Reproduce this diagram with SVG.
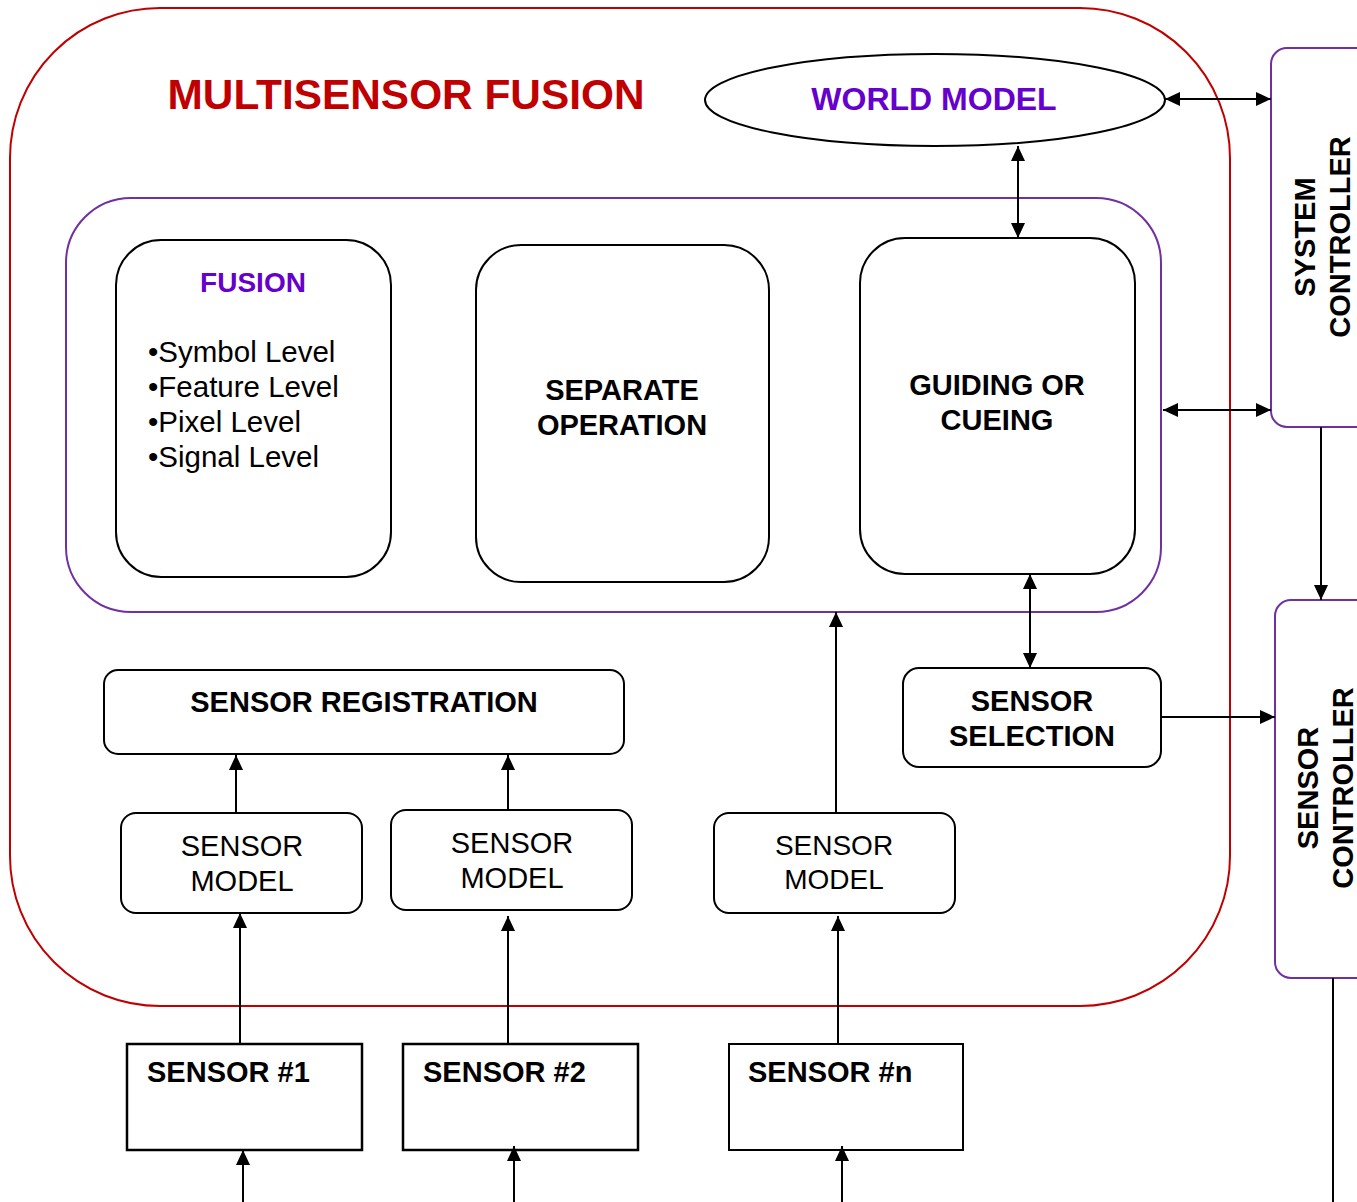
<svg xmlns="http://www.w3.org/2000/svg" width="1357" height="1202" viewBox="0 0 1357 1202">
<defs>
<marker id="ah" viewBox="0 0 15 14" refX="15" refY="7" markerWidth="15" markerHeight="14" markerUnits="userSpaceOnUse" orient="auto-start-reverse">
<path d="M0,0 L15,7 L0,14 Z" fill="#000"/>
</marker>
<style>
text{font-family:"Liberation Sans",Arial,sans-serif;fill:#000;}
.b{font-weight:bold;}
.box{fill:#fff;stroke:#000;stroke-width:2;}
.pbox{fill:#fff;stroke:#7030a0;stroke-width:2;}
.c{fill:none;stroke:#000;stroke-width:2;}
.m{text-anchor:middle;}
</style>
</defs>
<rect x="0" y="0" width="1357" height="1202" fill="#fff"/>
<g id="multisensor-fusion">
<rect x="10" y="8" width="1220" height="998" rx="150" ry="150" fill="none" stroke="#c00000" stroke-width="2"/>
<text x="406" y="109" class="b m" font-size="43" style="fill:#c00000" textLength="477" lengthAdjust="spacingAndGlyphs">MULTISENSOR FUSION</text>
</g>
<g id="world-model">
<ellipse cx="935" cy="100" rx="230" ry="46" fill="#fff" stroke="#000" stroke-width="2"/>
<text x="934" y="110" class="b m" font-size="32" style="fill:#6600cc">WORLD MODEL</text>
</g>
<g id="fusion-group">
<rect x="66" y="198" width="1095" height="414" rx="65" ry="65" fill="none" stroke="#7030a0" stroke-width="2"/>
</g>
<g id="fusion">
<rect class="box" x="116" y="240" width="275" height="337" rx="45" ry="45"/>
<text x="253" y="292" class="b m" font-size="28" style="fill:#6600cc">FUSION</text>
<text x="148" y="362" font-size="29.5">•Symbol Level</text>
<text x="148" y="397" font-size="29.5">•Feature Level</text>
<text x="148" y="432" font-size="29.5">•Pixel Level</text>
<text x="148" y="467" font-size="29.5">•Signal Level</text>
</g>
<g id="separate-operation">
<rect class="box" x="476" y="245" width="293" height="337" rx="45" ry="45"/>
<text x="622" y="400" class="b m" font-size="29">SEPARATE</text>
<text x="622" y="435" class="b m" font-size="29">OPERATION</text>
</g>
<g id="guiding-or-cueing">
<rect class="box" x="860" y="238" width="275" height="336" rx="45" ry="45"/>
<text x="997" y="395" class="b m" font-size="29">GUIDING OR</text>
<text x="997" y="430" class="b m" font-size="29">CUEING</text>
</g>
<g id="system-controller">
<rect class="pbox" x="1271" y="48" width="110" height="379" rx="16" ry="16"/>
<text transform="translate(1315,237) rotate(-90)" class="b m" font-size="29">SYSTEM</text>
<text transform="translate(1350,237) rotate(-90)" class="b m" font-size="29">CONTROLLER</text>
</g>
<g id="sensor-controller">
<rect class="pbox" x="1275" y="600" width="110" height="378" rx="16" ry="16"/>
<text transform="translate(1318,788) rotate(-90)" class="b m" font-size="29">SENSOR</text>
<text transform="translate(1353,788) rotate(-90)" class="b m" font-size="29">CONTROLLER</text>
</g>
<g id="sensor-selection">
<rect class="box" x="903" y="668" width="258" height="99" rx="16" ry="16"/>
<text x="1032" y="711" class="b m" font-size="29">SENSOR</text>
<text x="1032" y="746" class="b m" font-size="29">SELECTION</text>
</g>
<g id="sensor-registration">
<rect class="box" x="104" y="670" width="520" height="84" rx="14" ry="14"/>
<text x="364" y="712" class="b m" font-size="29">SENSOR REGISTRATION</text>
</g>
<g id="sensor-model-1">
<rect class="box" x="121" y="813" width="241" height="100" rx="15" ry="15"/>
<text x="242" y="856" class="m" font-size="29">SENSOR</text>
<text x="242" y="891" class="m" font-size="29">MODEL</text>
</g>
<g id="sensor-model-2">
<rect class="box" x="391" y="810" width="241" height="100" rx="15" ry="15"/>
<text x="512" y="853" class="m" font-size="29">SENSOR</text>
<text x="512" y="888" class="m" font-size="29">MODEL</text>
</g>
<g id="sensor-model-n">
<rect class="box" x="714" y="813" width="241" height="100" rx="15" ry="15"/>
<text x="834" y="855" class="m" font-size="28">SENSOR</text>
<text x="834" y="889" class="m" font-size="28">MODEL</text>
</g>
<g id="sensor-1">
<rect x="127" y="1044" width="235" height="106" fill="#fff" stroke="#000" stroke-width="2.5"/>
<text x="147" y="1082" class="b" font-size="29">SENSOR #1</text>
</g>
<g id="sensor-2">
<rect x="403" y="1044" width="235" height="106" fill="#fff" stroke="#000" stroke-width="2.5"/>
<text x="423" y="1082" class="b" font-size="29">SENSOR #2</text>
</g>
<g id="sensor-n">
<rect x="729" y="1044" width="234" height="106" fill="#fff" stroke="#000" stroke-width="2"/>
<text x="748" y="1082" class="b" font-size="29">SENSOR #n</text>
</g>
<g id="connectors">
<line class="c" x1="1018" y1="146" x2="1018" y2="238" marker-start="url(#ah)" marker-end="url(#ah)"/>
<line class="c" x1="1165" y1="99" x2="1271" y2="99" marker-start="url(#ah)" marker-end="url(#ah)"/>
<line class="c" x1="1163" y1="410" x2="1271" y2="410" marker-start="url(#ah)" marker-end="url(#ah)"/>
<line class="c" x1="1321" y1="427" x2="1321" y2="600" marker-end="url(#ah)"/>
<line class="c" x1="1333" y1="978" x2="1333" y2="1202"/>
<line class="c" x1="1030" y1="574" x2="1030" y2="668" marker-start="url(#ah)" marker-end="url(#ah)"/>
<line class="c" x1="1161" y1="717" x2="1275" y2="717" marker-end="url(#ah)"/>
<line class="c" x1="236" y1="813" x2="236" y2="755" marker-end="url(#ah)"/>
<line class="c" x1="508" y1="810" x2="508" y2="755" marker-end="url(#ah)"/>
<line class="c" x1="836" y1="813" x2="836" y2="612" marker-end="url(#ah)"/>
<line class="c" x1="240" y1="1044" x2="240" y2="913" marker-end="url(#ah)"/>
<line class="c" x1="508" y1="1044" x2="508" y2="916" marker-end="url(#ah)"/>
<line class="c" x1="838" y1="1044" x2="838" y2="916" marker-end="url(#ah)"/>
<line class="c" x1="243" y1="1202" x2="243" y2="1150" marker-end="url(#ah)"/>
<line class="c" x1="514" y1="1202" x2="514" y2="1146" marker-end="url(#ah)"/>
<line class="c" x1="842" y1="1202" x2="842" y2="1146" marker-end="url(#ah)"/>
</g>
</svg>
